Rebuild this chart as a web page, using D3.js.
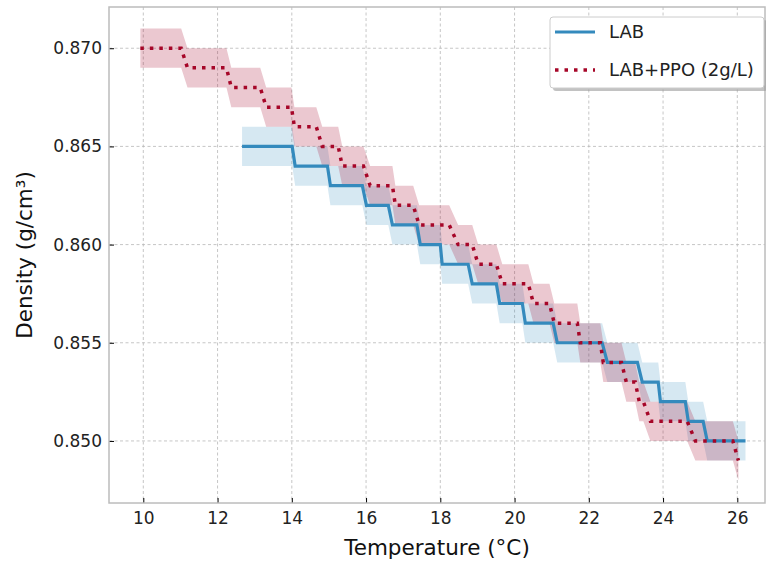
<!DOCTYPE html>
<html>
<head>
<meta charset="utf-8">
<script src="https://cdn.jsdelivr.net/npm/d3@7"></script>
<style>
  body { margin: 0; background: #fff; }
  svg { font-family: "DejaVu Sans", sans-serif; }
</style>
</head>
<body>
<div id="chart"></div>
<script>
// LAB: temperature breakpoints (start / end of each density plateau)
const labTemp = [12.66, 14.01, 14.09, 14.96, 15.04, 15.90, 16.01, 16.60, 16.71, 17.37,
                 17.46, 18.00, 18.05, 18.75, 18.86, 19.51, 19.60, 20.21, 20.29, 21.04,
                 21.15, 22.36, 22.50, 23.31, 23.44, 23.87, 23.93, 24.60, 24.68, 25.08,
                 25.19, 26.22];
const labDensity = [0.865, 0.865, 0.864, 0.864, 0.863, 0.863, 0.862, 0.862, 0.861, 0.861,
                    0.860, 0.860, 0.859, 0.859, 0.858, 0.858, 0.857, 0.857, 0.856, 0.856,
                    0.855, 0.855, 0.854, 0.854, 0.853, 0.853, 0.852, 0.852, 0.851, 0.851,
                    0.850, 0.850];

// LAB+PPO (2g/L)
const ppoTemp = [9.92, 11.02, 11.19, 12.24, 12.37, 13.15, 13.31, 13.99, 14.07, 14.66,
                 14.82, 15.25, 15.36, 15.93, 16.11, 16.71, 16.79, 17.27, 17.43, 18.24,
                 18.48, 18.86, 19.02, 19.51, 19.67, 20.37, 20.51, 20.94, 21.07, 21.69,
                 21.77, 22.31, 22.39, 22.88, 23.01, 23.25, 23.36, 23.47, 23.66, 24.65,
                 24.87, 25.88, 26.03];
const ppoDensity = [0.870, 0.870, 0.869, 0.869, 0.868, 0.868, 0.867, 0.867, 0.866, 0.866,
                    0.865, 0.865, 0.864, 0.864, 0.863, 0.863, 0.862, 0.862, 0.861, 0.861,
                    0.860, 0.860, 0.859, 0.859, 0.858, 0.858, 0.857, 0.857, 0.856, 0.856,
                    0.855, 0.855, 0.854, 0.854, 0.853, 0.853, 0.852, 0.852, 0.851, 0.851,
                    0.850, 0.850, 0.849];

const uncertainty = 0.001;   // shaded band half width

const xTicks = [10, 12, 14, 16, 18, 20, 22, 24, 26];
const yTicks = [0.850, 0.855, 0.860, 0.865, 0.870];

const seriesNames = ["LAB", "LAB+PPO (2g/L)"];
const seriesColors = ["#348ABD", "#A60628"];

width = 766;
height = 562;
margin = { top: 7, right: 1, bottom: 59, left: 109 };

const series = [
    { name: seriesNames[0], color: seriesColors[0], dash: null, fillOpacity: 0.2,
      values: labTemp.map((t, i) => ({ t: t, d: labDensity[i] })) },
    { name: seriesNames[1], color: seriesColors[1], dash: "3.5,6", fillOpacity: 0.22,
      values: ppoTemp.map((t, i) => ({ t: t, d: ppoDensity[i] })) }
];

var svg = d3.select("#chart").append("svg")
    .attr("width", width)
    .attr("height", height);

//////// Scales ////////
const xScale = d3.scaleLinear()
    .domain([9.076, 26.746])
    .range([margin.left, width - margin.right]);

const yScale = d3.scaleLinear()
    .domain([0.84684, 0.87210])
    .range([height - margin.bottom, margin.top]);

//////// Grid ////////
svg.append("g").selectAll("line.gx")
    .data(xTicks).join("line")
    .attr("x1", d => xScale(d)).attr("x2", d => xScale(d))
    .attr("y1", margin.top).attr("y2", height - margin.bottom)
    .attr("stroke", "#b8b8b8").attr("stroke-width", 0.8)
    .attr("stroke-dasharray", "3,2.5");

svg.append("g").selectAll("line.gy")
    .data(yTicks).join("line")
    .attr("y1", d => yScale(d)).attr("y2", d => yScale(d))
    .attr("x1", margin.left).attr("x2", width - margin.right)
    .attr("stroke", "#b8b8b8").attr("stroke-width", 0.8)
    .attr("stroke-dasharray", "3,2.5");

//////// Bands ////////
const band = d3.area()
    .x(d => xScale(d.t))
    .y0(d => yScale(d.d - uncertainty))
    .y1(d => yScale(d.d + uncertainty));

svg.append("g").selectAll("path")
    .data(series).join("path")
    .attr("d", s => band(s.values))
    .attr("fill", s => s.color)
    .attr("fill-opacity", s => s.fillOpacity);

//////// Lines ////////
const line = d3.line()
    .x(d => xScale(d.t))
    .y(d => yScale(d.d));

svg.append("g").selectAll("path")
    .data(series).join("path")
    .attr("d", s => line(s.values))
    .attr("fill", "none")
    .attr("stroke", s => s.color)
    .attr("stroke-width", s => s.dash ? 3.5 : 3.2)
    .attr("stroke-dasharray", s => s.dash);

//////// Axes ////////
const xAxis = svg.append("g")
    .attr("transform", `translate(0,${height - margin.bottom})`)
    .call(d3.axisBottom(xScale).tickValues(xTicks).tickSize(-5).tickPadding(9).tickFormat(d3.format("d")));

const yAxis = svg.append("g")
    .attr("transform", `translate(${margin.left},0)`)
    .call(d3.axisLeft(yScale).tickValues(yTicks).tickSize(-5).tickPadding(7).tickFormat(d3.format(".3f")));

[xAxis, yAxis].forEach(a => {
    a.select(".domain").remove();
    a.selectAll("text").attr("font-size", 17).attr("fill", "#222")
        .attr("font-family", "DejaVu Sans");
    a.selectAll(".tick line").attr("stroke", "#000").attr("stroke-width", 1);
});

// frame
svg.append("rect")
    .attr("x", margin.left).attr("y", margin.top)
    .attr("width", width - margin.left - margin.right)
    .attr("height", height - margin.top - margin.bottom)
    .attr("fill", "none")
    .attr("stroke", "#bcbcbc")
    .attr("stroke-width", 1.5);

//////// Axis labels ////////
svg.append("text")
    .attr("x", (margin.left + width - margin.right) / 2)
    .attr("y", 555)
    .attr("text-anchor", "middle")
    .attr("font-size", 21.5)
    .attr("fill", "#111")
    .text("Temperature (°C)");

svg.append("text")
    .attr("transform", `translate(32,${(margin.top + height - margin.bottom) / 2}) rotate(-90)`)
    .attr("text-anchor", "middle")
    .attr("font-size", 21.5)
    .attr("fill", "#111")
    .text("Density (g/cm³)");

//////// Legend ////////
const legend = svg.append("g").attr("transform", "translate(550,17)");

legend.append("rect")
    .attr("x", 3).attr("y", 3)
    .attr("width", 214).attr("height", 71).attr("rx", 3)
    .attr("fill", "#999").attr("fill-opacity", 0.6);

legend.append("rect")
    .attr("width", 214).attr("height", 71).attr("rx", 3)
    .attr("fill", "#fff")
    .attr("stroke", "#cccccc").attr("stroke-width", 1);

const entry = legend.selectAll("g.entry")
    .data(series).join("g")
    .attr("class", "entry")
    .attr("transform", (d, i) => `translate(0,${15 + i * 38})`);

entry.append("line")
    .attr("x1", 5).attr("x2", 45)
    .attr("stroke", d => d.color)
    .attr("stroke-width", d => d.dash ? 3.5 : 3.2)
    .attr("stroke-dasharray", d => d.dash);

entry.append("text")
    .attr("x", 59).attr("dy", "0.35em")
    .attr("font-size", 18)
    .attr("fill", "#222")
    .text(d => d.name);
</script>
</body>
</html>
